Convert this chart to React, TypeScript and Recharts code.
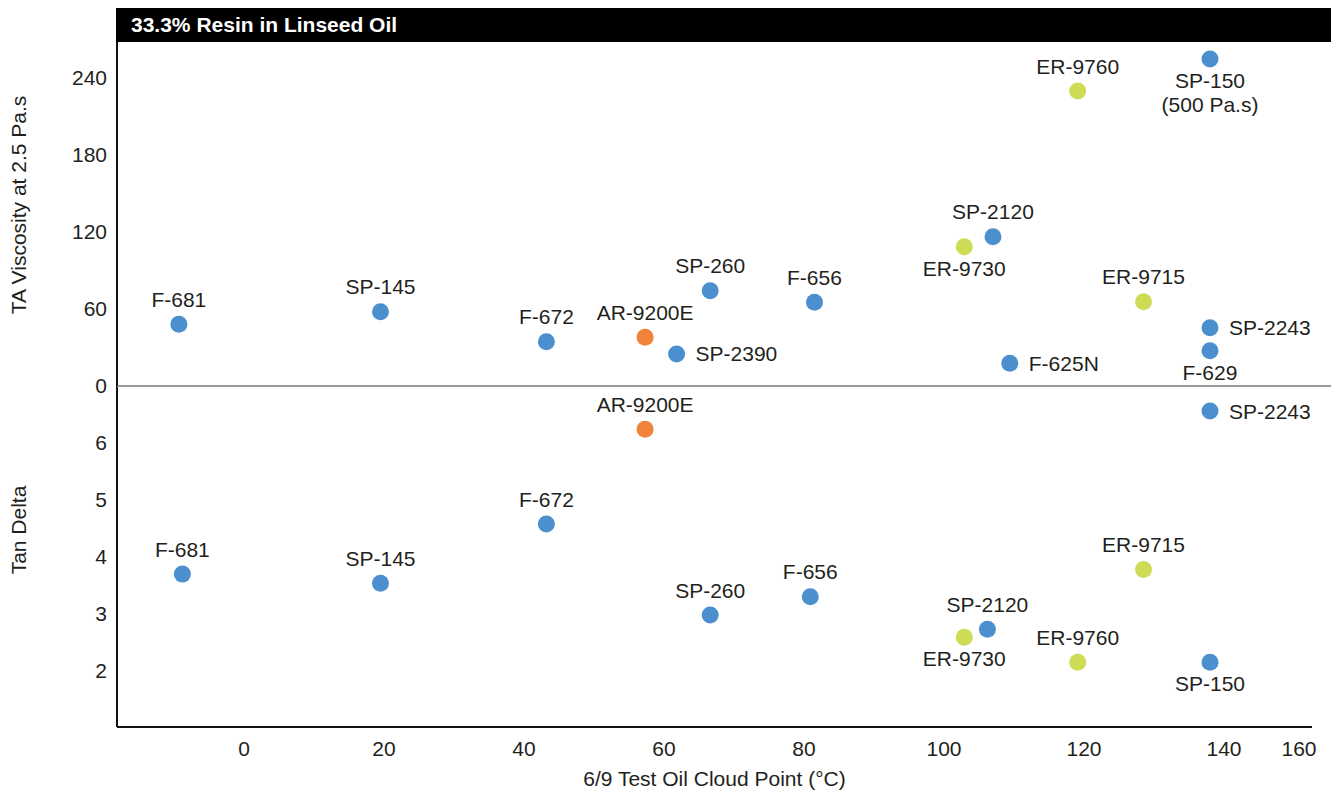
import React from 'react';
import { ScatterChart, Scatter, XAxis, YAxis, ReferenceLine, Label } from 'recharts';

// ---------- data ----------
const topNames = ['F-681', 'SP-145', 'F-672', 'AR-9200E', 'SP-2390', 'SP-260', 'F-656', 'ER-9730', 'SP-2120', 'F-625N', 'ER-9760', 'ER-9715', 'SP-2243', 'F-629', 'SP-150\n(500 Pa.s)'];
const topCloudPoint = [-9.3, 19.5, 43.2, 57.3, 61.8, 66.6, 81.5, 102.9, 107.0, 109.4, 119.1, 128.5, 138.0, 138.0, 138.0];
const topViscosity = [48.0, 57.8, 34.4, 37.9, 24.9, 74.1, 65.1, 108.3, 116.1, 17.6, 229.3, 65.5, 45.3, 27.4, 254.2];

const bottomNames = ['F-681', 'SP-145', 'F-672', 'AR-9200E', 'SP-260', 'F-656', 'ER-9730', 'SP-2120', 'ER-9760', 'ER-9715', 'SP-150', 'SP-2243'];
const bottomCloudPoint = [-8.8, 19.5, 43.2, 57.3, 66.6, 80.9, 102.9, 106.2, 119.1, 128.5, 138.0, 138.0];
const bottomTanDelta = [3.69, 3.53, 4.57, 6.24, 2.97, 3.29, 2.58, 2.72, 2.14, 3.77, 2.14, 6.56];

const xTicks = [0, 20, 40, 60, 80, 100, 120, 140, 160];
const viscosityTicks = [0, 60, 120, 180, 240];
const tanDeltaTicks = [2, 3, 4, 5, 6];

const titleText = '33.3% Resin in Linseed Oil';
const xTitle = '6/9 Test Oil Cloud Point (°C)';
const topYTitle = 'TA Viscosity at 2.5 Pa.s';
const bottomYTitle = 'Tan Delta';

// ---------- styling (label placement per point) ----------
const topSides = ['top', 'top', 'top', 'top', 'right', 'top', 'top', 'bottom', 'top', 'right', 'top', 'top', 'right', 'bottom', 'bottom'];
const bottomSides = ['top', 'top', 'top', 'top', 'top', 'top', 'bottom', 'top', 'top', 'top', 'bottom', 'right'];

const FONT = '"Liberation Sans", Arial, Helvetica, sans-serif';
const TEXT = '#231f20';
const BLUE = '#4b8fcf';
const ORANGE = '#f0823a';
const GREEN = '#cedc55';

const CHART_W = 1339;
const BOTTOM_RIGHT_MARGIN = 27;
const X_MIN = -18.14;
const X_MAX_BOTTOM = 152.57;
const X_MAX_TOP = 156.43;

const topData = topNames.map((name, i) => ({ name, x: topCloudPoint[i], y: topViscosity[i], side: topSides[i] }));
const bottomData = bottomNames.map((name, i) => ({ name, x: bottomCloudPoint[i], y: bottomTanDelta[i], side: bottomSides[i] }));

const colorFor = (name: string) => (name.startsWith('ER') ? GREEN : name.startsWith('AR') ? ORANGE : BLUE);

const PointShape = (props: any) => {
  const { cx, cy, payload } = props;
  if (cx == null || cy == null || !payload) return <g />;
  const lines: string[] = String(payload.name).split('\n');
  const side = payload.side;
  let texts: React.ReactNode[] = [];
  if (side === 'top') {
    texts = lines.map((l, i) => (
      <text key={i} x={cx} y={cy - 17.5 - (lines.length - 1 - i) * 24} textAnchor="middle" fontSize={21} fontFamily={FONT} fill={TEXT}>{l}</text>
    ));
  } else if (side === 'bottom') {
    texts = lines.map((l, i) => (
      <text key={i} x={cx} y={cy + 29 + i * 24} textAnchor="middle" fontSize={21} fontFamily={FONT} fill={TEXT}>{l}</text>
    ));
  } else {
    texts = lines.map((l, i) => (
      <text key={i} x={cx + 19} y={cy + 7.5 + i * 24} textAnchor="start" fontSize={21} fontFamily={FONT} fill={TEXT}>{l}</text>
    ));
  }
  return (
    <g>
      <circle cx={cx} cy={cy} r={8.5} fill={colorFor(String(payload.name))} />
      {texts}
    </g>
  );
};

const tickStyle = { fill: TEXT, fontSize: 21, fontFamily: FONT };

// x tick: last label is kept inside the end of the axis line
const XTick = (props: any) => {
  const { x, y, payload } = props;
  const axisEnd = CHART_W - BOTTOM_RIGHT_MARGIN;
  const tx = Math.min(x, axisEnd - 13);
  return (
    <text x={tx} y={y} dy="0.71em" textAnchor="middle" fontSize={21} fontFamily={FONT} fill={TEXT}>
      {payload.value}
    </text>
  );
};

export default function App() {
  return (
    <div style={{ position: 'relative', width: 1339, height: 798, margin: -8, overflow: 'hidden', background: '#fff', fontFamily: FONT }}>
      {/* bottom panel: tan delta */}
      <div style={{ position: 'absolute', left: 0, top: 386 }}>
        <ScatterChart width={CHART_W} height={412} margin={{ top: 0, right: BOTTOM_RIGHT_MARGIN, bottom: 0, left: 0 }}>
          <XAxis
            type="number"
            dataKey="x"
            domain={[X_MIN, X_MAX_BOTTOM]}
            ticks={xTicks}
            interval={0}
            allowDataOverflow
            height={71}
            tickLine={false}
            tickSize={0}
            tickMargin={14}
            axisLine={{ stroke: '#111', strokeWidth: 2 }}
            tick={<XTick />}
          >
            <Label
              content={(p: any) => {
                const vb = p.viewBox || {};
                return (
                  <text x={vb.x + vb.width / 2} y={vb.y + 58.5} textAnchor="middle" fontSize={21} fontFamily={FONT} fill={TEXT}>
                    {xTitle}
                  </text>
                );
              }}
            />
          </XAxis>
          <YAxis
            type="number"
            dataKey="y"
            domain={[1, 7]}
            ticks={tanDeltaTicks}
            interval={0}
            allowDataOverflow
            width={117}
            tickLine={false}
            tickSize={0}
            tickMargin={10}
            axisLine={{ stroke: '#111', strokeWidth: 2 }}
            tick={tickStyle}
          >
            <Label
              content={(p: any) => {
                const vb = p.viewBox || {};
                const cy = vb.y + 144;
                return (
                  <text x={26} y={cy} transform={`rotate(-90 26 ${cy})`} textAnchor="middle" fontSize={21} fontFamily={FONT} fill={TEXT}>
                    {bottomYTitle}
                  </text>
                );
              }}
            />
          </YAxis>
          <Scatter data={bottomData} shape={PointShape} isAnimationActive={false} />
        </ScatterChart>
      </div>

      {/* top panel: viscosity */}
      <div style={{ position: 'absolute', left: 0, top: 0 }}>
        <ScatterChart width={CHART_W} height={400} margin={{ top: 42, right: 0, bottom: 14, left: 0 }}>
          <XAxis type="number" dataKey="x" domain={[X_MIN, X_MAX_TOP]} allowDataOverflow hide />
          <YAxis
            type="number"
            dataKey="y"
            domain={[0, 267.4]}
            ticks={viscosityTicks}
            interval={0}
            allowDataOverflow
            width={117}
            tickLine={false}
            tickSize={0}
            tickMargin={10}
            axisLine={{ stroke: '#111', strokeWidth: 2 }}
            tick={tickStyle}
          >
            <Label
              content={(p: any) => {
                const vb = p.viewBox || {};
                const cy = vb.y + 163;
                return (
                  <text x={26} y={cy} transform={`rotate(-90 26 ${cy})`} textAnchor="middle" fontSize={21} fontFamily={FONT} fill={TEXT}>
                    {topYTitle}
                  </text>
                );
              }}
            />
          </YAxis>
          <ReferenceLine y={0} stroke="#999" strokeWidth={2} />
          <Scatter data={topData} shape={PointShape} isAnimationActive={false} />
        </ScatterChart>
      </div>

      {/* title bar */}
      <div style={{ position: 'absolute', left: 116, top: 5, width: 1223, height: 37, background: '#000', overflow: 'hidden' }}>
        <div style={{ position: 'absolute', left: 15, top: 1, lineHeight: '37px', fontSize: 21, fontWeight: 700, color: '#fff', fontFamily: FONT, whiteSpace: 'nowrap' }}>
          {titleText}
        </div>
      </div>
    </div>
  );
}
